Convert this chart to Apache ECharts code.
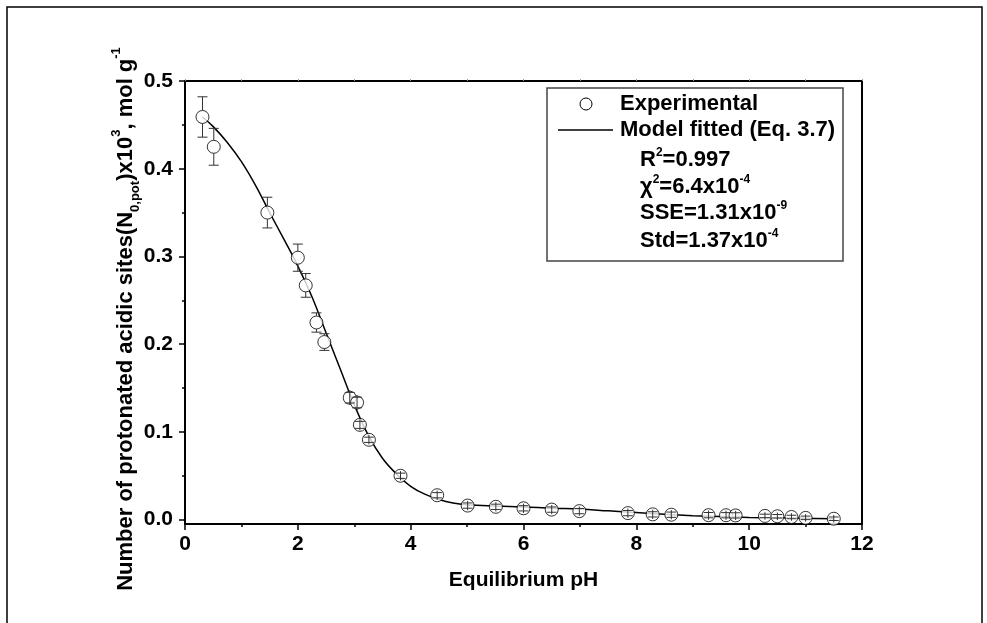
<!DOCTYPE html>
<html>
<head>
<meta charset="utf-8">
<script src="https://cdn.jsdelivr.net/npm/echarts@6/dist/echarts.min.js"></script>
<style>
html,body{margin:0;padding:0;background:#fff;}
#chart{width:987px;height:623px;}
</style>
</head>
<body>
<div id="chart"></div>
<script>
// Experimental points
var expPH = [0.31, 0.51, 1.46, 2.00, 2.14, 2.33, 2.47, 2.92, 3.05, 3.10, 3.26, 3.82, 4.47, 5.01, 5.51, 6.00, 6.50, 6.99, 7.85, 8.29, 8.62, 9.28, 9.59, 9.76, 10.28, 10.50, 10.75, 11.00, 11.50];
var expN  = [0.459, 0.425, 0.350, 0.2986, 0.267, 0.2247, 0.2024, 0.139, 0.1335, 0.108, 0.091, 0.050, 0.0278, 0.016, 0.0146, 0.0129, 0.0114, 0.0097, 0.0074, 0.006, 0.0056, 0.0051, 0.005, 0.0048, 0.0042, 0.0038, 0.003, 0.002, 0.001];
var expErr = [0.023, 0.021, 0.0175, 0.0155, 0.0135, 0.011, 0.0095, 0.006, 0.006, 0.004, 0.003, 0.003, 0.003, 0.003, 0.003, 0.003, 0.003, 0.003, 0.003, 0.003, 0.003, 0.003, 0.003, 0.003, 0.002, 0.002, 0.002, 0.002, 0.002];
// Model fitted curve
var fitPH = [0.31, 0.5, 0.75, 1.0, 1.25, 1.5, 1.75, 2.0, 2.25, 2.5, 2.75, 3.0, 3.25, 3.5, 3.75, 4.0, 4.25, 4.5, 4.75, 5.0, 5.5, 6.0, 6.5, 7.0, 7.5, 8.0, 8.5, 9.0, 9.5, 10.0, 10.5, 11.0, 11.5];
var fitN  = [0.459, 0.448, 0.430, 0.408, 0.381, 0.350, 0.320, 0.289, 0.254, 0.213, 0.172, 0.131, 0.096, 0.070, 0.052, 0.038, 0.029, 0.023, 0.019, 0.017, 0.0155, 0.0145, 0.013, 0.012, 0.010, 0.008, 0.006, 0.0045, 0.0035, 0.0025, 0.002, 0.0015, 0.001];
// Axis ticks
var xTicks = [0, 2, 4, 6, 8, 10, 12];
var yTicks = [0, 0.1, 0.2, 0.3, 0.4, 0.5];
var yMinorTicks = [0.05, 0.15, 0.25, 0.35, 0.45];
// Legend / stats text
var legendNames = ['Experimental', 'Model fitted (Eq. 3.7)'];
var statLines = ['{a|R}{sup|2}{a|=0.997}', '{a|\u03c7}{sup|2}{a|=6.4x10}{sup|-4}', '{a|SSE=1.31x10}{sup|-9}', '{a|Std=1.37x10}{sup|-4}'];

var FONT = 'Liberation Sans, Arial, sans-serif';
var chart = echarts.init(document.getElementById('chart'), null, {renderer: 'canvas'});

var scatterData = expPH.map(function (x, i) { return [x, expN[i]]; });
var errData = expPH.map(function (x, i) { return [x, expN[i] - expErr[i], expN[i] + expErr[i], expN[i]]; });
var fitData = fitPH.map(function (x, i) { return [x, fitN[i]]; });
var R = 6.5;

var tickLabelStyle = {fontFamily: FONT, fontWeight: 'bold', fontSize: 21, color: '#000'};

var statRich = {
  a: {fontFamily: FONT, fontWeight: 'bold', fontSize: 22, color: '#000', lineHeight: 26, verticalAlign: 'middle'},
  sup: {fontFamily: FONT, fontWeight: 'bold', fontSize: 12, color: '#000', lineHeight: 12, verticalAlign: 'top'}
};
var statYs = [160, 187, 213, 241];
var statGraphics = statLines.map(function (t, i) {
  return {type: 'text', x: 640, y: statYs[i], silent: true, z: 6,
    style: {text: t, rich: statRich, align: 'left', verticalAlign: 'middle'}};
});

var option = {
  backgroundColor: '#fff',
  animation: false,
  grid: {left: 185, right: 125, top: 81, bottom: 99, containLabel: false},
  xAxis: [{
    type: 'value', min: 0, max: 12, interval: 2, position: 'bottom',
    name: 'Equilibrium pH', nameLocation: 'middle', nameGap: 46,
    nameTextStyle: {fontFamily: FONT, fontWeight: 'bold', fontSize: 21, color: '#000'},
    axisLine: {show: true, onZero: false, lineStyle: {color: '#000', width: 2}},
    axisTick: {show: true, inside: false, length: 6, lineStyle: {color: '#000', width: 1.5}},
    minorTick: {show: true, splitNumber: 2, length: 3, lineStyle: {color: '#000', width: 1.5}},
    axisLabel: Object.assign({margin: 10, customValues: xTicks}, tickLabelStyle),
    splitLine: {show: false}
  }, {
    type: 'value', min: 0, max: 12, interval: 1, position: 'top',
    axisLine: {show: true, onZero: false, lineStyle: {color: '#000', width: 2}},
    axisTick: {show: true, inside: false, length: 2, lineStyle: {color: '#999', width: 1}},
    axisLabel: {show: false}, splitLine: {show: false}
  }],
  yAxis: [{
    type: 'value', min: -0.005, max: 0.5, position: 'left',
    axisLine: {show: true, onZero: false, lineStyle: {color: '#000', width: 2}},
    axisTick: {show: true, inside: false, length: 6, customValues: yTicks, lineStyle: {color: '#000', width: 1.5}},
    axisLabel: Object.assign({margin: 12, customValues: yTicks, formatter: function (v) { return v.toFixed(1); }}, tickLabelStyle),
    splitLine: {show: false}
  }, {
    type: 'value', min: -0.005, max: 0.5, position: 'left',
    axisLine: {show: false},
    axisTick: {show: true, inside: false, length: 3, customValues: yMinorTicks, lineStyle: {color: '#000', width: 1.5}},
    axisLabel: {show: false}, splitLine: {show: false}
  }, {
    type: 'value', min: -0.005, max: 0.5, position: 'right',
    axisLine: {show: true, onZero: false, lineStyle: {color: '#000', width: 2}},
    axisTick: {show: false},
    axisLabel: {show: false}, splitLine: {show: false}
  }],
  series: [{
    name: legendNames[1], type: 'line', data: fitData, smooth: 0.4,
    showSymbol: false, symbol: 'none',
    lineStyle: {color: '#000', width: 1.5}, itemStyle: {color: '#000'}, z: 2
  }, {
    name: legendNames[0], type: 'scatter', data: scatterData,
    symbol: 'circle', symbolSize: 2 * R,
    itemStyle: {color: '#fff', borderColor: '#000', borderWidth: 1}, z: 3
  }, {
    type: 'custom', data: errData, z: 4, silent: true,
    renderItem: function (params, api) {
      var x = api.value(0);
      var lo = api.coord([x, api.value(1)]);
      var hi = api.coord([x, api.value(2)]);
      var c = api.coord([x, api.value(3)]);
      var cap = 5;
      var st = {stroke: '#333', lineWidth: 1};
      var kids = [];
      var half = (lo[1] - hi[1]) / 2;
      if (half > R) {
        kids.push({type: 'line', shape: {x1: hi[0], y1: hi[1], x2: c[0], y2: c[1] - R}, style: st});
        kids.push({type: 'line', shape: {x1: c[0], y1: c[1] + R, x2: lo[0], y2: lo[1]}, style: st});
      } else {
        kids.push({type: 'line', shape: {x1: hi[0], y1: hi[1] - 2, x2: lo[0], y2: lo[1] + 2}, style: st});
      }
      kids.push({type: 'line', shape: {x1: hi[0] - cap, y1: hi[1], x2: hi[0] + cap, y2: hi[1]}, style: st});
      kids.push({type: 'line', shape: {x1: lo[0] - cap, y1: lo[1], x2: lo[0] + cap, y2: lo[1]}, style: st});
      return {type: 'group', children: kids};
    }
  }],
  graphic: [
    {type: 'rect', shape: {x: 7, y: 7, width: 975, height: 640}, style: {fill: 'none', stroke: '#000', lineWidth: 1.5}, silent: true, z: 0},
    {type: 'rect', shape: {x: 547, y: 88, width: 296, height: 173}, style: {fill: 'rgba(255,255,255,0)', stroke: '#444', lineWidth: 1.5}, silent: true, z: 5},
    // legend entries
    {type: 'circle', shape: {cx: 586, cy: 104, r: 6}, style: {fill: '#fff', stroke: '#000', lineWidth: 1}, silent: true, z: 6},
    {type: 'text', x: 620, y: 104, silent: true, z: 6, style: {text: legendNames[0], fontFamily: FONT, fontWeight: 'bold', fontSize: 22, fill: '#000', align: 'left', verticalAlign: 'middle'}},
    {type: 'line', shape: {x1: 558, y1: 130, x2: 613, y2: 130}, style: {stroke: '#000', lineWidth: 1.5}, silent: true, z: 6},
    {type: 'text', x: 620, y: 130, silent: true, z: 6, style: {text: legendNames[1], fontFamily: FONT, fontWeight: 'bold', fontSize: 22, fill: '#000', align: 'left', verticalAlign: 'middle'}},
    // y-axis title
    {type: 'text', x: 126, y: 319, rotation: Math.PI / 2, silent: true, z: 5,
      style: {
        text: '{a|Number of protonated acidic sites(N}{sub|0,pot}{a|)x10}{sup|3}{a|, mol g}{sup|-1}',
        align: 'center', verticalAlign: 'middle',
        rich: {
          a: {fontFamily: FONT, fontWeight: 'bold', fontSize: 22, color: '#000', lineHeight: 32, verticalAlign: 'middle'},
          sub: {fontFamily: FONT, fontWeight: 'bold', fontSize: 13, color: '#000', lineHeight: 13, verticalAlign: 'bottom'},
          sup: {fontFamily: FONT, fontWeight: 'bold', fontSize: 13, color: '#000', lineHeight: 13, verticalAlign: 'top'}
        }
      }
    }
  ].concat(statGraphics)
};

chart.setOption(option);
</script>
</body>
</html>
